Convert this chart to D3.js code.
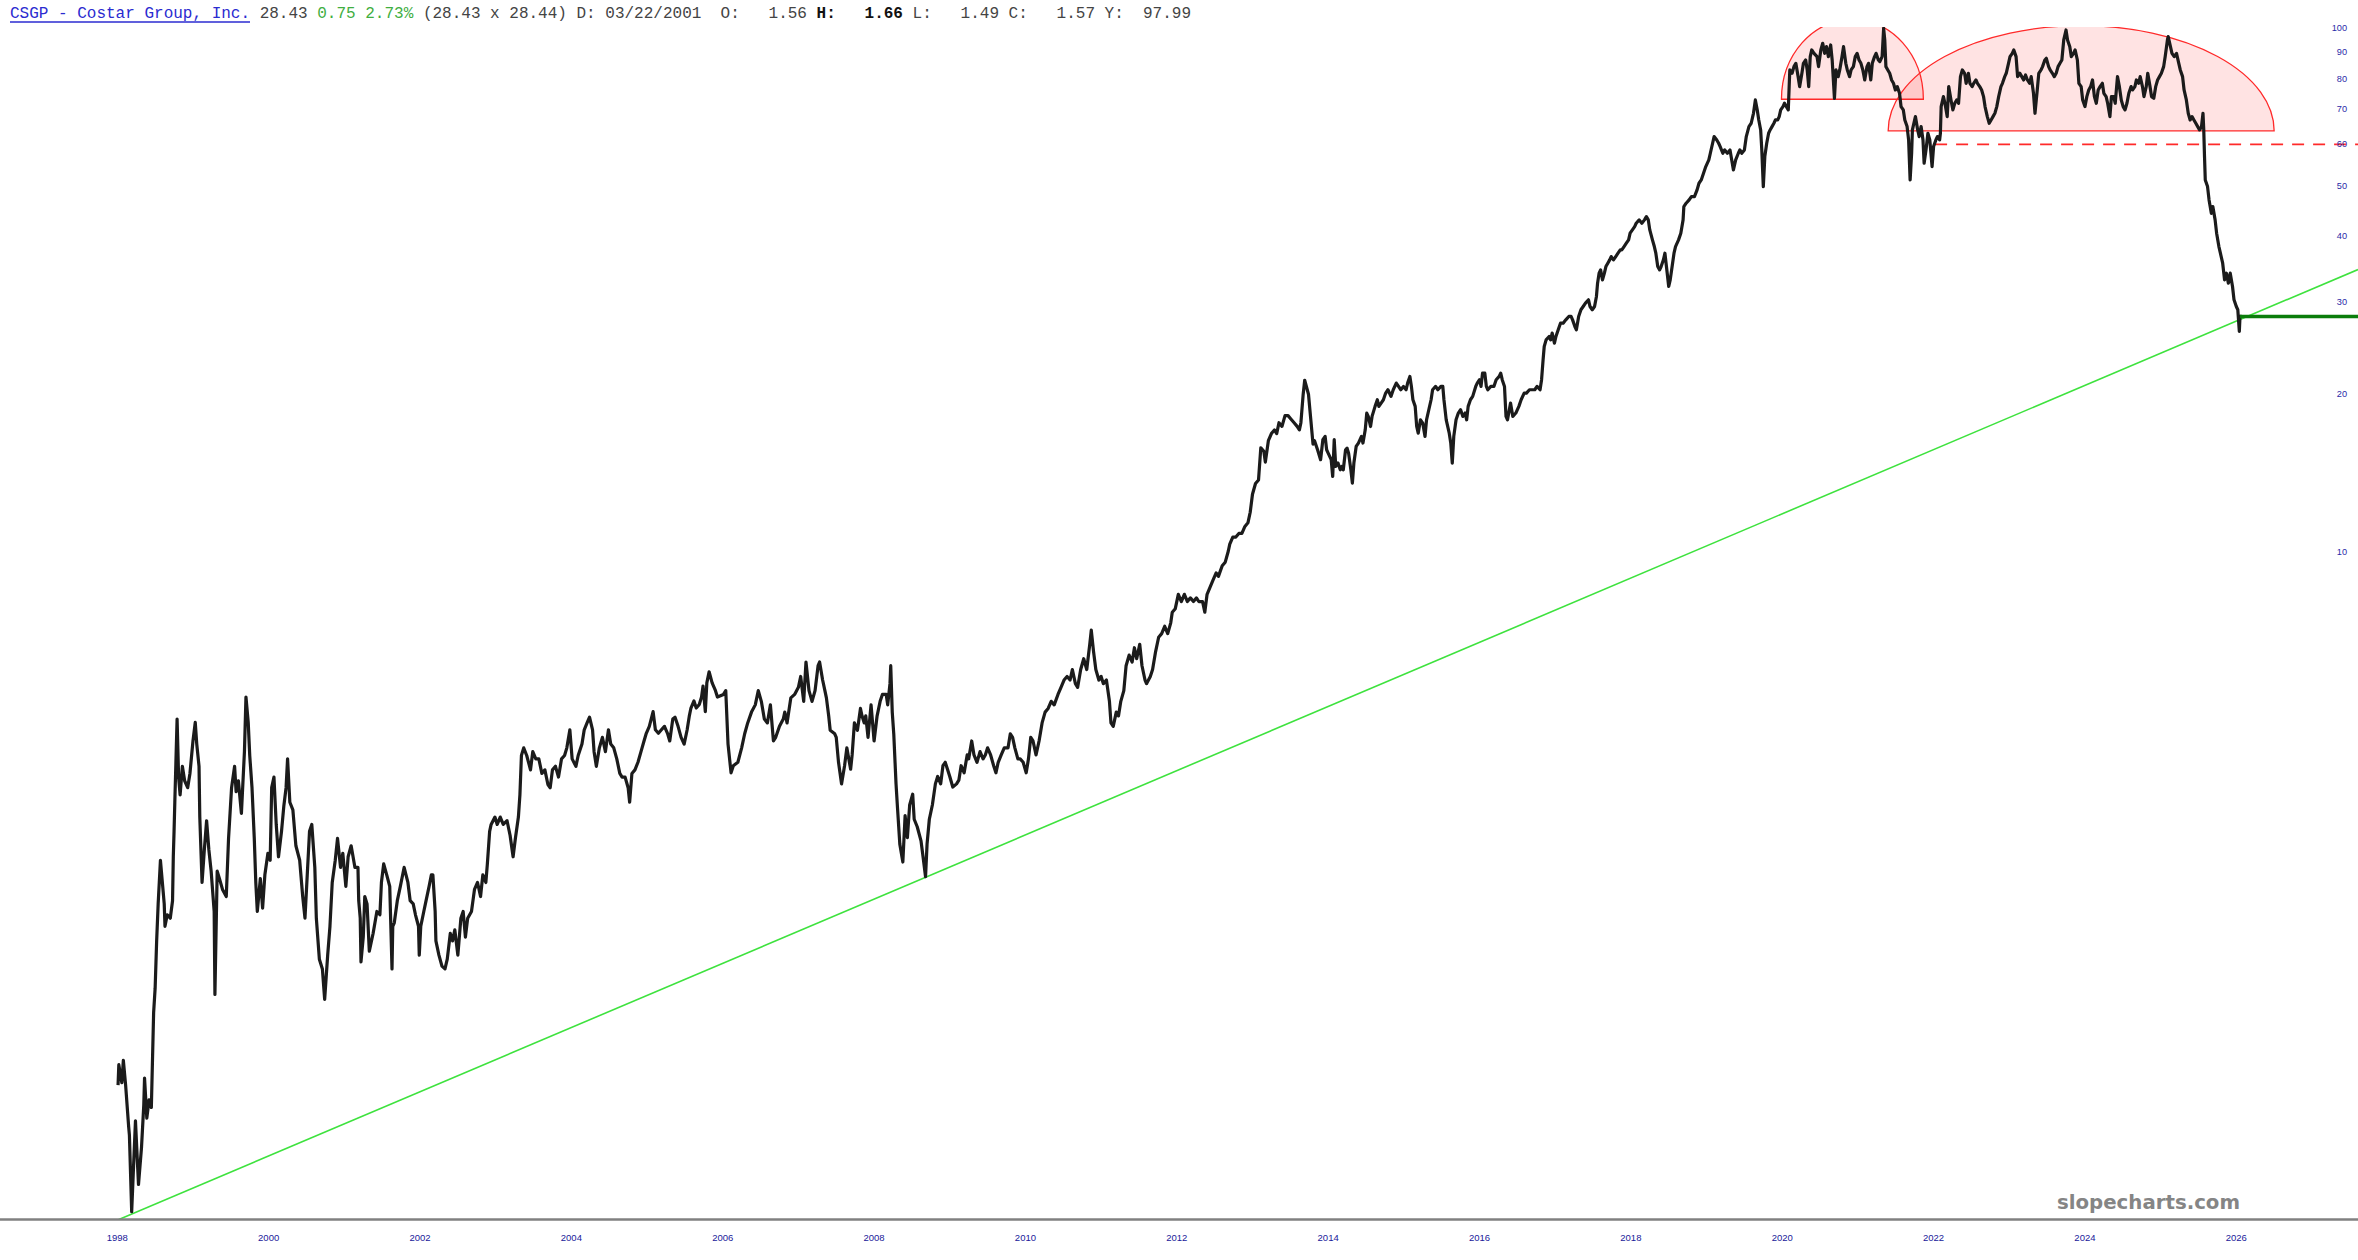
<!DOCTYPE html>
<html><head><meta charset="utf-8">
<script src="https://cdn.jsdelivr.net/npm/d3@7"></script>
<style>html,body{margin:0;padding:0;background:#fff;overflow:hidden}svg{display:block}</style>
</head><body><svg id="c" width="2358" height="1260"></svg>
<script>
// ---------------- data ----------------
const xTickYears = [1998,2000,2002,2004,2006,2008,2010,2012,2014,2016,2018,2020,2022,2024,2026];
const yTickValues = [10,20,30,40,50,60,70,80,90,100];

const seg1998 = [[1998.01,0.96],[1998.02,1.05],[1998.06,0.97],[1998.08,1.07],[1998.11,0.96],[1998.15,0.80],[1998.16,0.77],[1998.19,0.55],[1998.22,0.70],[1998.24,0.82],[1998.28,0.62],[1998.32,0.73],[1998.35,0.88],[1998.36,0.99],[1998.39,0.83],[1998.42,0.90],[1998.45,0.87],[1998.48,1.32],[1998.50,1.47],[1998.52,1.81],[1998.54,2.13],[1998.57,2.58],[1998.60,2.30],[1998.62,2.13],[1998.63,1.93],[1998.66,2.03],[1998.70,2.00],[1998.73,2.16],[1998.74,2.62],[1998.75,2.93],[1998.76,3.33],[1998.79,4.80],[1998.81,3.72],[1998.83,3.44],[1998.86,3.90],[1998.89,3.66],[1998.93,3.55],[1998.96,3.78],[1999.00,4.36],[1999.03,4.73],[1999.05,4.30],[1999.08,3.90],[1999.09,3.12],[1999.12,2.34],[1999.15,2.70],[1999.18,3.07],[1999.21,2.70],[1999.24,2.46],[1999.28,2.06],[1999.29,1.43],[1999.32,2.46],[1999.35,2.38],[1999.39,2.27],[1999.44,2.20],[1999.47,2.84],[1999.51,3.55],[1999.55,3.90],[1999.57,3.49],[1999.60,3.66],[1999.64,3.17],[1999.68,4.16],[1999.70,5.29],[1999.73,4.73],[1999.75,4.09],[1999.78,3.55],[1999.81,2.84],[1999.83,2.34],[1999.85,2.06],[1999.89,2.38],[1999.92,2.09],[1999.95,2.42],[1999.99,2.66]];
const seg2000 = [[2000.02,2.58],[2000.04,3.55],[2000.07,3.72],[2000.10,3.02],[2000.13,2.62],[2000.17,2.93],[2000.20,3.27],[2000.23,3.55],[2000.25,4.03],[2000.28,3.33],[2000.32,3.22],[2000.36,2.75],[2000.41,2.58],[2000.45,2.20],[2000.48,2.00],[2000.51,2.42],[2000.54,2.93],[2000.57,3.02],[2000.61,2.50],[2000.63,2.00],[2000.67,1.67],[2000.71,1.60],[2000.74,1.40],[2000.78,1.70],[2000.81,1.93],[2000.84,2.34],[2000.88,2.58],[2000.91,2.84],[2000.95,2.50],[2000.98,2.66],[2001.02,2.30],[2001.05,2.62],[2001.09,2.75],[2001.14,2.50],[2001.18,2.50],[2001.19,2.16],[2001.21,2.00],[2001.22,1.65],[2001.25,1.84],[2001.27,2.20],[2001.30,2.13],[2001.33,1.73],[2001.38,1.87],[2001.43,2.06],[2001.47,2.03],[2001.49,2.34],[2001.52,2.54],[2001.56,2.42],[2001.60,2.30],[2001.63,1.60],[2001.64,1.93],[2001.66,1.96],[2001.70,2.16],[2001.74,2.30],[2001.79,2.50],[2001.84,2.34],[2001.87,2.16],[2001.91,2.13],[2001.94,2.03],[2001.98,1.93],[2001.99,1.70]];
const seg2002 = [[2002.01,1.93],[2002.05,2.06],[2002.08,2.16],[2002.12,2.30],[2002.15,2.42],[2002.17,2.42],[2002.20,2.06],[2002.21,1.81],[2002.25,1.70],[2002.29,1.62],[2002.33,1.60],[2002.36,1.67],[2002.40,1.87],[2002.43,1.81],[2002.46,1.90],[2002.50,1.70],[2002.54,2.00],[2002.57,2.06],[2002.60,1.84],[2002.63,2.00],[2002.68,2.06],[2002.72,2.27],[2002.76,2.34],[2002.80,2.20],[2002.83,2.42],[2002.87,2.34],[2002.89,2.54],[2002.92,2.93],[2002.94,3.02],[2002.99,3.12],[2003.02,3.02],[2003.06,3.12],[2003.10,3.02],[2003.15,3.07],[2003.19,2.88],[2003.23,2.62],[2003.26,2.84],[2003.30,3.12],[2003.32,3.44],[2003.34,4.09],[2003.37,4.23],[2003.41,4.09],[2003.46,3.84],[2003.49,4.16],[2003.53,4.03],[2003.57,4.03],[2003.61,3.78],[2003.65,3.84],[2003.69,3.60],[2003.72,3.55],[2003.75,3.84],[2003.79,3.90],[2003.83,3.72],[2003.87,4.03],[2003.91,4.09],[2003.94,4.23],[2003.98,4.58]];
const seg2004 = [[2004.01,4.03],[2004.06,3.90],[2004.09,4.09],[2004.14,4.30],[2004.17,4.58],[2004.21,4.73],[2004.24,4.84],[2004.28,4.58],[2004.30,4.16],[2004.33,3.90],[2004.37,4.23],[2004.41,4.43],[2004.45,4.16],[2004.49,4.58],[2004.52,4.30],[2004.56,4.23],[2004.60,4.03],[2004.64,3.78],[2004.67,3.72],[2004.71,3.72],[2004.75,3.55],[2004.77,3.33],[2004.80,3.78],[2004.84,3.84],[2004.88,3.97],[2004.92,4.16],[2004.96,4.36],[2004.99,4.51],[2005.03,4.65],[2005.08,4.96],[2005.11,4.58],[2005.15,4.51],[2005.19,4.58],[2005.23,4.65],[2005.27,4.51],[2005.30,4.36],[2005.34,4.80],[2005.37,4.84],[2005.41,4.65],[2005.45,4.43],[2005.49,4.30],[2005.53,4.58],[2005.56,4.88],[2005.58,5.04],[2005.62,5.20],[2005.65,5.04],[2005.69,5.12],[2005.72,5.29],[2005.74,5.55],[2005.77,4.96],[2005.79,5.63],[2005.82,5.91],[2005.86,5.63],[2005.90,5.46],[2005.93,5.29]];
const seg2006 = [[2006.01,5.35],[2006.04,5.44],[2006.07,4.30],[2006.11,3.79],[2006.14,3.91],[2006.20,3.97],[2006.25,4.23],[2006.29,4.50],[2006.33,4.72],[2006.38,4.95],[2006.43,5.11],[2006.47,5.44],[2006.51,5.19],[2006.55,4.80],[2006.59,4.72],[2006.63,5.11],[2006.67,4.36],[2006.70,4.43],[2006.75,4.65],[2006.80,4.80],[2006.82,4.95],[2006.85,4.72],[2006.90,5.27],[2006.95,5.35],[2007.00,5.52],[2007.03,5.79],[2007.07,5.19],[2007.10,6.17],[2007.14,5.44],[2007.18,5.19],[2007.22,5.44],[2007.26,6.07],[2007.28,6.17],[2007.32,5.70],[2007.35,5.44],[2007.37,5.27],[2007.40,4.87],[2007.42,4.57],[2007.48,4.50],[2007.50,4.43],[2007.53,3.97],[2007.57,3.61],[2007.61,3.91],[2007.64,4.23],[2007.69,3.85],[2007.71,4.10],[2007.74,4.72],[2007.78,4.57],[2007.82,5.03],[2007.84,4.87],[2007.87,4.72],[2007.89,4.87],[2007.92,4.43],[2007.96,5.11]];
const seg2008 = [[2008.00,4.36],[2008.04,4.87],[2008.08,5.19],[2008.11,5.35],[2008.16,5.35],[2008.18,5.11],[2008.21,5.61],[2008.22,6.07],[2008.24,4.95],[2008.26,4.50],[2008.29,3.61],[2008.31,3.24],[2008.34,2.77],[2008.38,2.56],[2008.41,3.14],[2008.44,2.85],[2008.47,3.29],[2008.51,3.45],[2008.53,3.09],[2008.57,2.99],[2008.62,2.81],[2008.65,2.60],[2008.68,2.40],[2008.70,2.77],[2008.73,3.09],[2008.77,3.29],[2008.81,3.61],[2008.84,3.73],[2008.88,3.61],[2008.91,3.91],[2008.94,3.97],[2008.97,3.85],[2009.00,3.73],[2009.04,3.56],[2009.09,3.61],[2009.12,3.67],[2009.15,3.91],[2009.19,3.79],[2009.23,4.10],[2009.25,4.03],[2009.29,4.36],[2009.32,4.10],[2009.36,3.97],[2009.40,4.16],[2009.44,4.03],[2009.47,4.10],[2009.50,4.23],[2009.54,4.10],[2009.58,3.91],[2009.61,3.79],[2009.64,3.97],[2009.68,4.10],[2009.72,4.23],[2009.77,4.23],[2009.80,4.50],[2009.83,4.43],[2009.86,4.23],[2009.90,4.03],[2009.93,4.03],[2009.97,3.97]];
const seg2010 = [[2010.01,3.79],[2010.04,4.03],[2010.07,4.43],[2010.10,4.36],[2010.14,4.10],[2010.18,4.36],[2010.22,4.72],[2010.26,4.95],[2010.30,5.03],[2010.34,5.19],[2010.38,5.11],[2010.43,5.35],[2010.47,5.52],[2010.51,5.70],[2010.55,5.79],[2010.59,5.70],[2010.62,5.97],[2010.66,5.61],[2010.69,5.52],[2010.73,5.97],[2010.77,6.26],[2010.81,5.97],[2010.85,6.67],[2010.87,7.10],[2010.90,6.46],[2010.93,5.97],[2010.97,5.70],[2011.00,5.79],[2011.03,5.61],[2011.07,5.70],[2011.11,5.19],[2011.13,4.72],[2011.16,4.65],[2011.20,4.95],[2011.23,4.87],[2011.26,5.19],[2011.30,5.44],[2011.33,6.07],[2011.37,6.36],[2011.41,6.17],[2011.44,6.57],[2011.47,6.26],[2011.51,6.67],[2011.54,6.07],[2011.58,5.70],[2011.60,5.61],[2011.65,5.79],[2011.68,5.97],[2011.72,6.46],[2011.76,6.88],[2011.80,6.99],[2011.84,7.22],[2011.88,6.99],[2011.92,7.33],[2011.94,7.68],[2011.98,7.80]];
const seg2012 = [[2012.02,8.31],[2012.06,8.05],[2012.10,8.31],[2012.14,8.05],[2012.18,8.18],[2012.22,8.05],[2012.26,8.18],[2012.29,8.05],[2012.34,8.05],[2012.37,7.68],[2012.40,8.31],[2012.44,8.58],[2012.48,8.85],[2012.52,9.13],[2012.55,8.99],[2012.60,9.42],[2012.64,9.57],[2012.68,10.04],[2012.70,10.36],[2012.74,10.69],[2012.78,10.69],[2012.82,10.86],[2012.86,10.86],[2012.90,11.20],[2012.94,11.38],[2012.97,11.92],[2013.00,12.90],[2013.04,13.53],[2013.08,13.74],[2013.11,15.83],[2013.15,15.58],[2013.17,14.86],[2013.21,16.33],[2013.25,16.85],[2013.29,17.12],[2013.32,16.85],[2013.35,17.67],[2013.39,17.39],[2013.43,18.23],[2013.47,18.23],[2013.51,17.95],[2013.55,17.67],[2013.59,17.39],[2013.62,17.12],[2013.64,17.67],[2013.67,20.03],[2013.69,21.30],[2013.74,20.03],[2013.77,17.95],[2013.80,16.08],[2013.82,16.33]];
const seg2014 = [[2013.86,15.69],[2013.90,15.02],[2013.93,16.40],[2013.96,16.64],[2013.98,15.69],[2014.00,15.46],[2014.04,15.02],[2014.06,13.95],[2014.08,16.40],[2014.10,14.58],[2014.13,14.80],[2014.16,14.37],[2014.18,14.58],[2014.20,14.37],[2014.23,15.69],[2014.25,15.80],[2014.27,15.46],[2014.30,14.37],[2014.32,13.55],[2014.34,14.80],[2014.37,15.92],[2014.40,16.16],[2014.44,16.64],[2014.46,16.16],[2014.49,17.13],[2014.51,18.44],[2014.53,18.17],[2014.56,17.38],[2014.58,18.17],[2014.62,18.99],[2014.65,19.55],[2014.67,18.99],[2014.70,19.27],[2014.73,19.55],[2014.76,20.13],[2014.79,20.43],[2014.83,19.84],[2014.86,20.43],[2014.90,21.04],[2014.93,20.73],[2014.96,20.43],[2014.995,20.73],[2015.03,20.43],[2015.05,21.04],[2015.08,21.66],[2015.10,20.73],[2015.12,19.55],[2015.15,18.99],[2015.17,17.38],[2015.19,16.88],[2015.22,17.90],[2015.25,17.64],[2015.28,16.64],[2015.30,17.90],[2015.33,18.71],[2015.36,19.55],[2015.38,20.43],[2015.42,20.73],[2015.45,20.43],[2015.49,20.73],[2015.515,20.73],[2015.53,19.55],[2015.56,17.90],[2015.60,16.88],[2015.62,16.16],[2015.64,14.80],[2015.66,16.64],[2015.69,17.90],[2015.72,18.44],[2015.75,18.71],[2015.78,18.17],[2015.81,18.44],[2015.83,17.90],[2015.85,18.99],[2015.88,19.55],[2015.91,19.84],[2015.95,20.73],[2015.97,21.04]];
const seg2016 = [[2016.00,21.35],[2016.02,20.73],[2016.04,21.98],[2016.07,21.98],[2016.09,20.73],[2016.11,20.43],[2016.15,20.73],[2016.19,20.73],[2016.22,21.35],[2016.26,21.66],[2016.28,21.98],[2016.30,21.35],[2016.33,20.73],[2016.35,18.17],[2016.37,17.90],[2016.41,19.27],[2016.44,18.17],[2016.48,18.44],[2016.52,18.99],[2016.55,19.55],[2016.59,20.13],[2016.62,20.13],[2016.66,20.43],[2016.69,20.43],[2016.73,20.43],[2016.76,20.73],[2016.80,20.43],[2016.82,21.35],[2016.84,23.31],[2016.855,24.71],[2016.88,25.44],[2016.92,25.82],[2016.94,25.44],[2016.96,26.20],[2016.99,25.07],[2017.01,25.82],[2017.04,26.59],[2017.07,27.38],[2017.105,27.38],[2017.14,27.78],[2017.18,28.20],[2017.21,28.20],[2017.23,27.78],[2017.26,26.98],[2017.28,26.59],[2017.31,28.20],[2017.34,29.04],[2017.37,29.46],[2017.40,29.90],[2017.44,30.34],[2017.46,29.46],[2017.49,29.04],[2017.52,29.46],[2017.545,30.79],[2017.56,32.64],[2017.58,34.11],[2017.60,34.61],[2017.625,33.12],[2017.65,34.11],[2017.67,35.12],[2017.695,35.64],[2017.72,36.17],[2017.74,36.70],[2017.77,36.17],[2017.80,36.70],[2017.83,37.24],[2017.86,37.79],[2017.88,37.79],[2017.91,38.35],[2017.94,38.92],[2017.97,39.49],[2017.99,40.67]];
const seg2018 = [[2018.02,41.26],[2018.05,41.87],[2018.07,42.49],[2018.11,43.12],[2018.145,42.49],[2018.18,43.12],[2018.205,43.75],[2018.23,43.12],[2018.25,41.26],[2018.285,39.49],[2018.31,38.35],[2018.33,37.24],[2018.355,35.12],[2018.38,34.61],[2018.40,35.12],[2018.43,36.17],[2018.45,37.24],[2018.47,35.12],[2018.50,32.17],[2018.52,33.12],[2018.545,35.12],[2018.57,37.24],[2018.59,38.35],[2018.63,39.49],[2018.66,40.67],[2018.69,43.12],[2018.70,45.72],[2018.73,46.40],[2018.77,47.08],[2018.80,47.78],[2018.84,47.78],[2018.875,49.19],[2018.90,50.66],[2018.93,51.41],[2018.96,52.94],[2018.99,54.51],[2019.03,56.13],[2019.05,57.80],[2019.08,60.40],[2019.10,62.20],[2019.135,61.29],[2019.16,60.40],[2019.18,59.52],[2019.215,57.80],[2019.24,58.66],[2019.275,57.80],[2019.31,58.66],[2019.34,55.32],[2019.355,53.72],[2019.385,56.13],[2019.42,57.80],[2019.44,58.66],[2019.465,57.80],[2019.50,58.66],[2019.525,62.20],[2019.56,64.99],[2019.59,65.95],[2019.62,68.91],[2019.645,73.07],[2019.67,69.93],[2019.69,66.92],[2019.715,64.04],[2019.73,58.66],[2019.75,49.92],[2019.77,56.96],[2019.795,60.40],[2019.82,63.11],[2019.84,64.04],[2019.865,64.99],[2019.89,65.95],[2019.91,66.92],[2019.94,66.92],[2019.96,67.91],[2019.98,69.93]];
const seg2020 = [[2020.01,70.96],[2020.03,72.01],[2020.055,70.96],[2020.08,69.93],[2020.10,83.37],[2020.13,82.16],[2020.155,84.60],[2020.18,85.84],[2020.21,80.96],[2020.23,77.48],[2020.26,82.16],[2020.28,85.84],[2020.31,87.11],[2020.33,83.37],[2020.35,77.48],[2020.37,88.40],[2020.39,91.03],[2020.42,89.70],[2020.46,88.40],[2020.48,84.60],[2020.51,91.03],[2020.535,93.74],[2020.56,89.70],[2020.585,92.37],[2020.61,88.40],[2020.64,93.06],[2020.66,87.11],[2020.69,73.60],[2020.71,83.37],[2020.74,80.96],[2020.76,83.37],[2020.79,88.40],[2020.81,92.37],[2020.84,85.84],[2020.86,83.37],[2020.89,80.96],[2020.91,83.37],[2020.94,84.60],[2020.965,88.40],[2020.99,89.70],[2021.015,87.11],[2021.04,85.84],[2021.065,83.37],[2021.09,79.78],[2021.12,84.60],[2021.14,85.84],[2021.17,79.78],[2021.19,85.84],[2021.22,88.40],[2021.24,89.70],[2021.27,87.11],[2021.29,86.47],[2021.32,88.40],[2021.34,100.1],[2021.355,95.13],[2021.37,84.60],[2021.395,83.37],[2021.42,82.16],[2021.445,79.78],[2021.47,78.62],[2021.495,76.35],[2021.52,77.48],[2021.55,75.24],[2021.57,70.96],[2021.60,69.93],[2021.62,66.92],[2021.65,64.99],[2021.67,61.29],[2021.69,51.41],[2021.71,57.80],[2021.72,64.04],[2021.75,66.92],[2021.76,67.91],[2021.79,64.04],[2021.81,62.20],[2021.835,64.99],[2021.86,61.29],[2021.875,55.32],[2021.90,58.66],[2021.925,63.11],[2021.95,61.29],[2021.98,54.51]];
const seg2022 = [[2022.00,59.52],[2022.03,61.29],[2022.05,62.20],[2022.08,61.29],[2022.09,63.11],[2022.10,70.96],[2022.13,74.15],[2022.15,72.01],[2022.18,67.91],[2022.20,77.48],[2022.23,73.07],[2022.255,69.93],[2022.28,72.01],[2022.305,73.07],[2022.33,72.01],[2022.355,80.96],[2022.38,83.37],[2022.41,82.16],[2022.43,78.62],[2022.46,82.16],[2022.48,78.62],[2022.51,77.48],[2022.53,78.62],[2022.56,79.78],[2022.58,78.62],[2022.61,77.48],[2022.635,76.35],[2022.66,74.15],[2022.68,70.96],[2022.71,67.91],[2022.735,65.95],[2022.76,66.92],[2022.785,67.91],[2022.81,68.91],[2022.835,70.96],[2022.86,74.15],[2022.89,77.48],[2022.91,78.62],[2022.94,80.96],[2022.96,82.16],[2022.99,85.84],[2023.01,88.40],[2023.04,89.70],[2023.06,91.03],[2023.09,88.40],[2023.11,80.96],[2023.14,82.16],[2023.165,80.96],[2023.19,79.78],[2023.215,81.55],[2023.24,79.78],[2023.27,78.62],[2023.29,80.96],[2023.32,75.24],[2023.34,68.91],[2023.37,76.35],[2023.39,82.16],[2023.42,83.37],[2023.44,84.60],[2023.47,87.11],[2023.49,87.75],[2023.52,84.60],[2023.54,83.37],[2023.57,82.16],[2023.595,80.96],[2023.62,82.16],[2023.645,84.60],[2023.67,85.84],[2023.695,87.11],[2023.72,95.13],[2023.75,99.39],[2023.77,95.13],[2023.80,92.37],[2023.82,88.40],[2023.85,89.70],[2023.87,91.03],[2023.90,87.11],[2023.92,78.62],[2023.95,77.48],[2023.97,73.07]];
const seg2024 = [[2024.00,70.96],[2024.025,74.15],[2024.05,76.35],[2024.075,77.48],[2024.10,79.78],[2024.125,74.15],[2024.15,72.01],[2024.175,76.35],[2024.20,77.48],[2024.23,78.62],[2024.25,75.24],[2024.28,74.15],[2024.30,72.01],[2024.33,67.91],[2024.35,74.15],[2024.38,74.15],[2024.40,72.01],[2024.43,80.96],[2024.455,77.48],[2024.48,73.07],[2024.505,70.96],[2024.53,69.93],[2024.555,72.01],[2024.58,75.24],[2024.61,77.48],[2024.63,76.35],[2024.66,77.48],[2024.68,79.78],[2024.71,78.62],[2024.73,80.96],[2024.76,77.48],[2024.78,74.15],[2024.81,77.48],[2024.83,82.16],[2024.86,77.48],[2024.88,74.15],[2024.91,73.60],[2024.935,77.48],[2024.96,79.78],[2024.985,80.96],[2025.01,82.16],[2025.04,84.60],[2025.06,88.40],[2025.09,95.13],[2025.10,96.53],[2025.13,92.37],[2025.15,89.70],[2025.18,88.40],[2025.21,89.70],[2025.24,85.84],[2025.26,83.37],[2025.29,80.96],[2025.31,76.35],[2025.34,73.07],[2025.365,68.91],[2025.39,66.92],[2025.415,67.91],[2025.44,66.92],[2025.465,65.95],[2025.49,64.99],[2025.515,64.04],[2025.54,64.99],[2025.56,68.91],[2025.57,64.04],[2025.58,56.96],[2025.59,51.41],[2025.62,49.92],[2025.64,47.08],[2025.67,44.38],[2025.69,45.72],[2025.72,43.12],[2025.74,40.67],[2025.77,38.35],[2025.79,37.24],[2025.82,35.64],[2025.845,33.12],[2025.87,34.11],[2025.895,32.64],[2025.92,34.11],[2025.95,32.17],[2025.97,30.34],[2026.00,29.46],[2026.02,29.04],[2026.04,26.40],[2026.05,28.43]];

// annotations (drawn objects on the chart)
const arcStartDates = [2019.99, 2021.40];
const arcEndDates   = [2021.865, 2026.50];
const arcBaseValues = [73.3, 63.8];
const arcTopValues  = [104.2, 101.3];
const trendDates  = [1998.013, 2026.147];
const trendValues = [0.531, 28.2];
const resistanceStart = 2022.02, resistanceValue = 60.1;
const supportStart = 2026.05, supportValue = 28.2;

const headerParts = [
  {t:"CSGP - Costar Group, Inc.", c:"#2b2bd0"},
  {t:" 28.43", c:"#444"},
  {t:" 0.75 2.73%", c:"#3fae3f"},
  {t:" (28.43 x 28.44) D: 03/22/2001  O:   1.56 ", c:"#444"},
  {t:"H:   1.66", c:"#111", bold:true},
  {t:" L:   1.49 C:   1.57 Y:  97.99", c:"#444"}
];
const watermark = "slopecharts.com";

// ---------------- drawing ----------------
const W = 2358, H = 1260;
const plotTop = 27, plotBottom = 1219.5;
const svg = d3.select("#c");
svg.append("rect").attr("width", W).attr("height", H).attr("fill", "#fff");

const x = d3.scaleLinear().domain([1998, 2026]).range([117.3, 2236.3]);
const y = d3.scaleLog().domain([10, 100]).range([552.2, 28.6]);

svg.append("defs").append("clipPath").attr("id", "plot")
  .append("rect").attr("x", 0).attr("y", plotTop).attr("width", W).attr("height", plotBottom - plotTop);
const plot = svg.append("g").attr("clip-path", "url(#plot)");

// arcs
arcStartDates.forEach((s, i) => {
  const x1 = x(s), x2 = x(arcEndDates[i]);
  const yb = y(arcBaseValues[i]);
  const rx = (x2 - x1) / 2, ry = yb - y(arcTopValues[i]);
  plot.append("path")
    .attr("d", `M${x1},${yb} A${rx},${ry} 0 0 1 ${x2},${yb} Z`)
    .attr("fill", "rgba(255,40,40,0.13)")
    .attr("stroke", "#ff2a2a").attr("stroke-width", 1.3);
});

// trend line (extended to right edge)
{
  const p1 = [x(trendDates[0]), y(trendValues[0])];
  const p2 = [x(trendDates[1]), y(trendValues[1])];
  const k = (p2[1] - p1[1]) / (p2[0] - p1[0]);
  plot.append("line")
    .attr("x1", p1[0]).attr("y1", p1[1])
    .attr("x2", W).attr("y2", p1[1] + k * (W - p1[0]))
    .attr("stroke", "#3ee23e").attr("stroke-width", 1.6);
}

// resistance dashed
plot.append("line")
  .attr("x1", x(resistanceStart)).attr("x2", W)
  .attr("y1", y(resistanceValue)).attr("y2", y(resistanceValue))
  .attr("stroke", "#ff2a2a").attr("stroke-width", 1.6).attr("stroke-dasharray", "12,9");

// price
const prices = [].concat(seg1998, seg2000, seg2002, seg2004, seg2006, seg2008, seg2010, seg2012, seg2014, seg2016, seg2018, seg2020, seg2022, seg2024);
const line = d3.line().x(d => x(d[0])).y(d => y(d[1]));
plot.append("path").datum(prices).attr("d", line)
  .attr("fill", "none").attr("stroke", "#1b1b1b").attr("stroke-width", 3.2)
  .attr("stroke-linejoin", "round");

// support
plot.append("line")
  .attr("x1", x(supportStart)).attr("x2", W)
  .attr("y1", y(supportValue)).attr("y2", y(supportValue))
  .attr("stroke", "#0b7d0b").attr("stroke-width", 3.6);

// x axis line
svg.append("line").attr("x1", 0).attr("x2", W).attr("y1", plotBottom).attr("y2", plotBottom)
  .attr("stroke", "#808080").attr("stroke-width", 2.5);

// x tick labels
svg.append("g").selectAll("text").data(xTickYears).join("text")
  .attr("x", d => x(d)).attr("y", 1238.5)
  .attr("text-anchor", "middle").attr("dominant-baseline", "middle")
  .attr("font-family", "'Liberation Sans', Arial, sans-serif").attr("font-size", 9.5)
  .attr("fill", "#20209a").text(d => d);

// y tick labels
svg.append("g").selectAll("text").data(yTickValues).join("text")
  .attr("x", 2347).attr("y", d => y(d))
  .attr("text-anchor", "end").attr("dominant-baseline", "middle")
  .attr("font-family", "'Liberation Sans', Arial, sans-serif").attr("font-size", 9.2)
  .attr("fill", "#2a2aa8").text(d => d);

// watermark
svg.append("text").attr("x", 2057).attr("y", 1209)
  .attr("font-family", "'DejaVu Sans', sans-serif").attr("font-weight", "bold")
  .attr("font-size", 19).attr("fill", "#858585")
  .attr("textLength", 183).attr("lengthAdjust", "spacingAndGlyphs").text(watermark);

// header
const hdr = svg.append("text").attr("x", 10).attr("y", 18)
  .attr("font-family", "'Liberation Mono', 'Courier New', monospace").attr("font-size", 16)
  .attr("xml:space", "preserve").style("white-space", "pre");
headerParts.forEach(p => {
  hdr.append("tspan").attr("fill", p.c).attr("font-weight", p.bold ? "bold" : null).text(p.t);
});
const titleLen = headerParts[0].t.length * 9.6;
svg.append("line").attr("x1", 10).attr("x2", 10 + titleLen).attr("y1", 22).attr("y2", 22)
  .attr("stroke", "#2b2bd0").attr("stroke-width", 1.3);
</script>
</body></html>
